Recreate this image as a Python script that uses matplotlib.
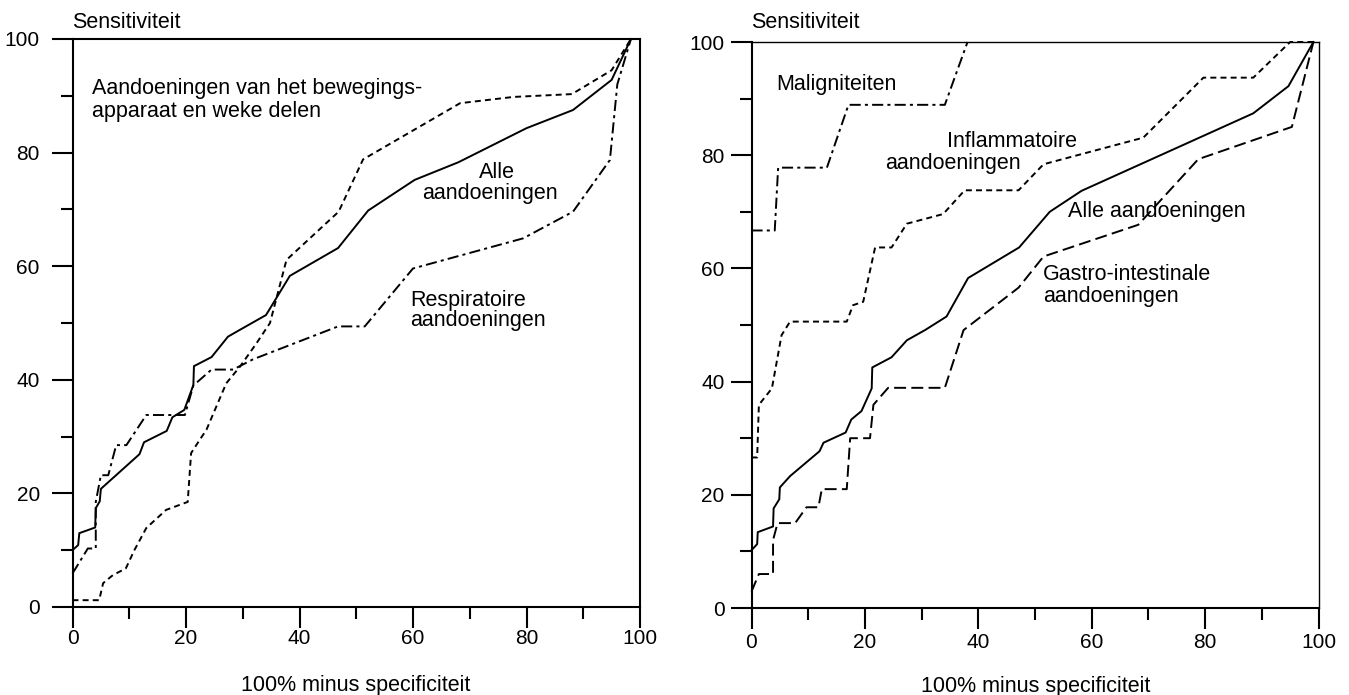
import matplotlib
matplotlib.use("Agg")
import matplotlib.pyplot as plt
from matplotlib.ticker import MultipleLocator

plt.rcParams['font.family'] = ['Liberation Sans', 'DejaVu Sans']
plt.rcParams['lines.scale_dashes'] = False

# ---------------- data: left panel ----------------
x_alle_L = [0, 1.0, 1.2, 4.0, 4.1, 4.8, 5.0, 11.8, 12.6, 16.6, 17.6, 19.7, 21.3, 21.4,
            24.5, 27.4, 29.5, 34.1, 38.3, 46.8, 52.1, 60.3, 68.0, 80.0, 88.2, 95.0, 98.4]
y_alle_L = [10.0, 10.9, 13.0, 14.0, 17.4, 18.6, 20.8, 26.9, 29.0, 31.0, 33.4, 34.7, 39.1, 42.4,
            44.0, 47.6, 48.8, 51.4, 58.3, 63.2, 69.8, 75.2, 78.3, 84.3, 87.5, 92.8, 100]

x_beweg = [0, 4.7, 5.4, 7.1, 9.4, 10.9, 13.0, 16.5, 20.3, 20.9, 22.4, 23.6, 27.1, 29.5,
           32.4, 34.8, 37.7, 46.9, 51.2, 68.3, 77.7, 88.0, 95.0, 98.4]
y_beweg = [1.2, 1.2, 4.2, 5.6, 6.8, 10.0, 13.9, 17.1, 18.5, 27.1, 29.4, 31.2, 39.4, 42.3,
           46.4, 50.0, 61.1, 69.6, 78.8, 88.7, 89.8, 90.3, 94.5, 100]

x_resp = [0, 2.7, 4.1, 4.1, 5.0, 6.3, 7.7, 9.5, 13.0, 19.8, 21.3, 24.5, 28.3, 31.8,
          46.8, 51.5, 60.0, 79.4, 88.2, 94.7, 96.0, 98.4]
y_resp = [5.9, 10.3, 10.3, 18.5, 23.2, 23.2, 28.5, 28.5, 33.8, 33.8, 39.0, 41.8, 41.8, 43.6,
          49.4, 49.4, 59.6, 64.9, 69.6, 78.7, 92.0, 100]

# ---------------- data: right panel ----------------
x_alle_R = [0, 1.0, 1.1, 3.8, 3.9, 4.9, 5.0, 6.8, 12.0, 12.7, 16.6, 17.6, 19.4, 21.2, 21.3,
            24.7, 27.4, 30.6, 34.4, 38.2, 47.2, 52.6, 58.2, 88.5, 94.7, 99.1]
y_alle_R = [10.2, 11.3, 13.4, 14.4, 17.6, 19.2, 21.3, 23.3, 27.7, 29.2, 31.0, 33.3, 34.8, 38.8, 42.5,
            44.3, 47.3, 49.1, 51.5, 58.3, 63.7, 70.0, 73.7, 87.4, 92.2, 100]

x_malig = [0, 4.1, 4.7, 13.3, 17.1, 34.1, 38.1]
y_malig = [66.7, 66.7, 77.8, 77.8, 88.9, 88.9, 100]

x_infl = [0, 1.0, 1.3, 3.6, 5.3, 6.8, 16.8, 17.9, 19.7, 21.8, 24.7, 27.4, 33.8, 37.6,
          47.1, 51.5, 69.1, 79.7, 88.5, 95.0, 99.1]
y_infl = [26.6, 26.6, 35.9, 38.8, 48.2, 50.6, 50.6, 53.5, 54.1, 63.7, 63.7, 67.9, 69.6, 73.8,
          73.8, 78.4, 83.1, 93.7, 93.7, 100, 100]

x_gastro = [0, 1.3, 3.8, 3.8, 4.6, 7.7, 9.7, 11.8, 12.4, 16.8, 17.4, 20.9, 21.5, 24.1,
            34.1, 37.4, 47.1, 51.5, 68.2, 78.8, 95.3, 99.1]
y_gastro = [2.9, 6.0, 6.0, 12.0, 15.0, 15.0, 17.8, 17.8, 21.0, 21.0, 30.0, 30.0, 35.9, 38.9,
            38.9, 49.1, 56.6, 62.1, 67.7, 79.3, 85.0, 100]

tick_major = [0, 20, 40, 60, 80, 100]

# ---------------- styles ----------------
LW = 1.4
SOLID = '-'
FINE = (0, (4.3, 3.0))
LONG = (0, (8.6, 3.8))
DASHDOT = (0, (8.0, 3.0, 2.2, 3.0))
FS = 15.5

W, H = 1349, 695
fig = plt.figure(figsize=(W / 100, H / 100), dpi=100)
fig.patch.set_facecolor('white')

axL = fig.add_axes([72.5 / W, 88 / H, 567.5 / W, 568 / H])
axR = fig.add_axes([751.5 / W, 87 / H, 567 / W, 566 / H])


def style_axis(ax, ypad, xpad, thin_top_right=False):
    ax.set_xlim(0, 100)
    ax.set_ylim(0, 100)
    ax.set_xticks(tick_major)
    ax.set_yticks(tick_major)
    ax.xaxis.set_minor_locator(MultipleLocator(10))
    ax.yaxis.set_minor_locator(MultipleLocator(10))
    ax.tick_params(axis='both', which='major', direction='out', length=15, width=1.5,
                   labelsize=15, color='black')
    ax.tick_params(axis='both', which='minor', direction='out', length=8.5, width=1.5,
                   color='black')
    ax.tick_params(axis='y', which='major', pad=ypad)
    ax.tick_params(axis='x', which='major', pad=xpad)
    for s in ax.spines.values():
        s.set_linewidth(1.5)
        s.set_color('black')
    if thin_top_right:
        ax.spines['top'].set_linewidth(1.0)
        ax.spines['right'].set_linewidth(1.0)
    ax.set_facecolor('white')


style_axis(axL, ypad=8.5, xpad=1.0)
style_axis(axR, ypad=4.5, xpad=3.0, thin_top_right=True)

# left panel curves
axL.plot(x_alle_L, y_alle_L, color='black', lw=LW, linestyle=SOLID, clip_on=False)
axL.plot(x_beweg, y_beweg, color='black', lw=LW, linestyle=FINE, clip_on=False)
axL.plot(x_resp, y_resp, color='black', lw=LW, linestyle=DASHDOT, clip_on=False)

# right panel curves
axR.plot(x_alle_R, y_alle_R, color='black', lw=LW, linestyle=SOLID, clip_on=False)
axR.plot(x_malig, y_malig, color='black', lw=LW, linestyle=DASHDOT, clip_on=False)
axR.plot(x_infl, y_infl, color='black', lw=LW, linestyle=FINE, clip_on=False)
axR.plot(x_gastro, y_gastro, color='black', lw=LW, linestyle=LONG, clip_on=False)

# annotations left
kw = dict(fontsize=FS, color='black', va='baseline')
axL.text(3.4, 90.3, 'Aandoeningen van het bewegings-', ha='left', **kw)
axL.text(3.4, 86.3, 'apparaat en weke delen', ha='left', **kw)
axL.text(74.8, 75.5, 'Alle', ha='center', **kw)
axL.text(73.6, 71.8, 'aandoeningen', ha='center', **kw)
axL.text(59.5, 53.0, 'Respiratoire', ha='left', **kw)
axL.text(59.5, 49.5, 'aandoeningen', ha='left', **kw)

# annotations right
axR.text(4.3, 91.5, 'Maligniteiten', ha='left', **kw)
axR.text(34.5, 81.4, 'Inflammatoire', ha='left', **kw)
axR.text(23.5, 77.6, 'aandoeningen', ha='left', **kw)
axR.text(55.8, 69.1, 'Alle aandoeningen', ha='left', **kw)
axR.text(51.4, 58.0, 'Gastro-intestinale', ha='left', **kw)
axR.text(51.4, 54.1, 'aandoeningen', ha='left', **kw)

# axis titles
axL.text(0, 101.9, 'Sensitiviteit', ha='left', clip_on=False, **kw)
axR.text(0, 102.4, 'Sensitiviteit', ha='left', clip_on=False, **kw)
fig.text(356 / W, 1 - 691 / H, '100% minus specificiteit', ha='center', va='baseline',
         fontsize=FS, color='black')
fig.text(1036 / W, 1 - 692 / H, '100% minus specificiteit', ha='center', va='baseline',
         fontsize=FS, color='black')

fig.savefig('out.png', dpi=100, facecolor='white')
